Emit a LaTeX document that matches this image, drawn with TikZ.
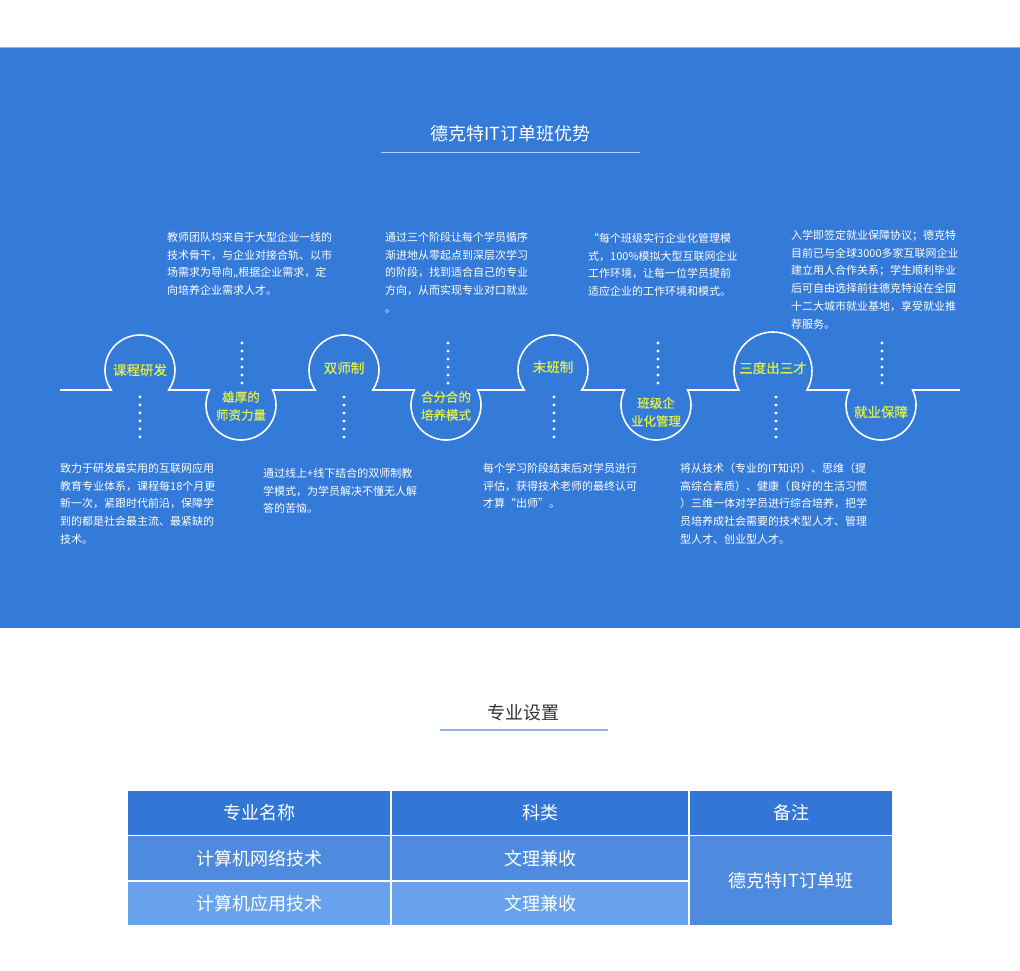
\documentclass[tikz,border=0pt]{standalone}
\usepackage{fontspec}
\setmainfont{Noto Sans CJK SC}
\newfontfamily\lblfont[FakeBold=0.6]{Noto Sans CJK SC}
\definecolor{bgblue}{RGB}{52,122,217}
\definecolor{edgeblue}{RGB}{140,180,235}
\definecolor{hdblue}{RGB}{50,119,216}
\definecolor{rowa}{RGB}{78,139,223}
\definecolor{rowb}{RGB}{106,163,237}
\definecolor{lblyellow}{RGB}{226,240,70}
\definecolor{ulblue}{RGB}{143,179,230}
\definecolor{darktext}{RGB}{51,51,51}
\begin{document}
\begin{tikzpicture}[x=1pt,y=1pt,
  desc/.style={anchor=north west,inner sep=0pt,align=left,text=white,
    font=\fontsize{11}{17.8}\selectfont},
  lbl/.style={inner sep=0pt,text=lblyellow,font=\lblfont\fontsize{13.5}{18}\selectfont},
  lbltwo/.style={inner sep=0pt,align=center,text=lblyellow,font=\lblfont\fontsize{12.5}{18}\selectfont},
  tl/.style={draw=white,line width=1.6pt},
  cell/.style={inner sep=0pt,outer sep=0pt,draw=white,line width=1.5pt,text=white,
    font=\fontsize{18}{22}\selectfont},
  title/.style={inner sep=0pt,font=\fontsize{18}{22}\selectfont}]
\useasboundingbox (0,0) rectangle (1020,-971);
\fill[white] (0,0) rectangle (1020,-971);
\fill[bgblue] (0,-47) rectangle (1020,-628);
\draw[edgeblue,line width=1pt] (0,-47.5) -- (1020,-47.5);

% title
\node[title,text=white] (t1) at (510.5,-134) {德克特IT订单班优势};
\draw[white,opacity=0.65,line width=1pt] (381,-153) -- (640,-153);

% timeline
\draw[tl] (60,-390) -- (111.28,-390) arc[start angle=214.85,end angle=-34.85,radius=35pt]
  -- (209.38,-390) arc[start angle=154.62,end angle=385.38,radius=35pt]
  -- (315.28,-390) arc[start angle=214.85,end angle=-34.85,radius=35pt]
  -- (414.38,-390) arc[start angle=154.62,end angle=385.38,radius=35pt]
  -- (524.28,-390) arc[start angle=214.85,end angle=-34.85,radius=35pt]
  -- (624.38,-390) arc[start angle=154.62,end angle=385.38,radius=35pt]
  -- (738.94,-390) arc[start angle=209.16,end angle=-29.16,radius=39pt]
  -- (849.38,-390) arc[start angle=154.62,end angle=385.38,radius=35pt]
  -- (960,-390);

% dotted columns
\foreach \x in {140,344,554,776}
  \foreach \k in {0,...,5}
    \fill[white] (\x,{-397-8*\k}) circle (1.6pt);
\foreach \x in {242,448,658,882}
  \foreach \k in {0,...,5}
    \fill[white] (\x,{-343-8*\k}) circle (1.6pt);

% circle labels
\node[lbl] (c1) at (140,-370) {课程研发};
\node[lbltwo] (c2) at (241,-406) {雄厚的\\师资力量};
\node[lbl] (c3) at (344,-368) {双师制};
\node[lbltwo] (c4) at (446,-406) {合分合的\\培养模式};
\node[lbl] (c5) at (553,-367) {末班制};
\node[lbltwo] (c6) at (656,-412) {班级企\\业化管理};
\node[lbl] (c7) at (773,-368) {三度出三才};
\node[lbl] (c8) at (881,-412) {就业保障};

% descriptions
\node[desc] (d1) at (167,-228.7) {\strut 教师团队均来自于大型企业一线的\\技术骨干，与企业对接合轨、以市\\场需求为导向,,根据企业需求，定\\向培养企业需求人才。};
\node[desc] (d2) at (385,-228.7) {\strut 通过三个阶段让每个学员循序\\渐进地从零起点到深层次学习\\的阶段，找到适合自己的专业\\方向，从而实现专业对口就业\\。};
\node[desc] (d3) at (588,-229.7) {\strut “每个班级实行企业化管理模\\式，100\%模拟大型互联网企业\\工作环境，让每一位学员提前\\适应企业的工作环境和模式。};
\node[desc] (d4) at (791,-226.7) {\strut 入学即签定就业保障协议；德克特\\目前已与全球3000多家互联网企业\\建立用人合作关系；学生顺利毕业\\后可自由选择前往德克特设在全国\\十二大城市就业基地，享受就业推\\荐服务。};
\node[desc] (d5) at (60,-459.7) {\strut 致力于研发最实用的互联网应用\\教育专业体系，课程每18个月更\\新一次，紧跟时代前沿，保障学\\到的都是社会最主流、最紧缺的\\技术。};
\node[desc] (d6) at (263,-464.7) {\strut 通过线上+线下结合的双师制教\\学模式，为学员解决不懂无人解\\答的苦恼。};
\node[desc] (d7) at (483,-459.7) {\strut 每个学习阶段结束后对学员进行\\评估，获得技术老师的最终认可\\才算“出师”。};
\node[desc] (d8) at (680,-459.7) {\strut 将从技术（专业的IT知识）、思维（提\\高综合素质）、健康（良好的生活习惯\\）三维一体对学员进行综合培养，把学\\员培养成社会需要的技术型人才、管理\\型人才、创业型人才。};

% second section
\node[title,text=darktext] (t2) at (523,-713) {专业设置};
\draw[ulblue,line width=1.2pt] (440,-730) -- (608,-730);

% table
\node[cell,fill=hdblue,minimum width=264pt,minimum height=45.5pt] (h1) at (259,-812.75) {专业名称};
\node[cell,fill=hdblue,minimum width=298pt,minimum height=45.5pt] (h2) at (540,-812.75) {科类};
\node[cell,fill=hdblue,minimum width=204pt,minimum height=45.5pt] (h3) at (791,-812.75) {备注};
\node[cell,fill=rowa,minimum width=264pt,minimum height=45.5pt] (r1a) at (259,-858.25) {计算机网络技术};
\node[cell,fill=rowa,minimum width=298pt,minimum height=45.5pt] (r1b) at (540,-858.25) {文理兼收};
\node[cell,fill=rowb,minimum width=264pt,minimum height=45pt] (r2a) at (259,-903.5) {计算机应用技术};
\node[cell,fill=rowb,minimum width=298pt,minimum height=45pt] (r2b) at (540,-903.5) {文理兼收};
\node[cell,fill=rowa,minimum width=204pt,minimum height=90.5pt] (m) at (791,-880.75) {德克特IT订单班};
\end{tikzpicture}
\end{document}
